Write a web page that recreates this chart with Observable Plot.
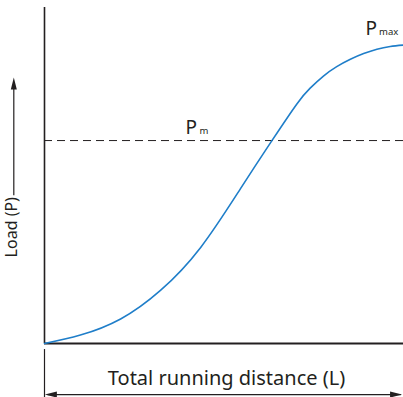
<!DOCTYPE html>
<html>
<head>
<meta charset="utf-8">
<script src="https://cdn.jsdelivr.net/npm/d3@7"></script>
<script src="https://cdn.jsdelivr.net/npm/@observablehq/plot@0.6"></script>
<style>
  html, body { margin: 0; padding: 0; background: #fff; }
  #chart svg { display: block; }
</style>
</head>
<body>
<div id="chart"></div>
<script>
// Load vs total running distance (relative units, 0–100)
const distance = [0, 10.0, 21.2, 32.3, 43.5, 54.6, 63.3, 70.3, 74.0, 77.7, 81.4, 85.2, 88.9, 92.6, 96.3, 100];
const load     = [0, 2.5, 7.3, 15.8, 28.6, 46.1, 60.3, 71.3, 76.0, 79.6, 82.4, 84.6, 86.3, 87.6, 88.4, 88.8];
const meanLoad = 60.4;            // P_m level
const labelMain = ["P", "P"];
const labelSub  = ["max", "m"];
const labelX    = [89.4, 39.3];
const labelSubX = [93.2, 43.2];
const labelY    = [91.9, 62.5];
const xTitle = "Total running distance (L)";
const yTitle = "Load (P)";

const curve = distance.map((d, i) => ({x: d, y: load[i]}));
const labels = labelMain.map((t, i) => ({t, s: labelSub[i], x: labelX[i], sx: labelSubX[i], y: labelY[i]}));
const ink = "#231f20";
const font = "Noto Sans, sans-serif";

// filled arrowhead symbol, tip at the anchor, pointing right
const arrowHead = {
  draw(context) {
    context.moveTo(0, 0);
    context.lineTo(-12, -3);
    context.lineTo(-12, 3);
    context.closePath();
  }
};

const chart = Plot.plot({
  width: 403,
  height: 397,
  marginTop: 7,
  marginRight: 0,
  marginBottom: 54,
  marginLeft: 44,
  x: {domain: [0, 100], axis: null},
  y: {domain: [0, 100], axis: null},
  style: {fontFamily: font, background: "#fff", overflow: "visible"},
  marks: [
    // dashed P_m line
    Plot.ruleY([meanLoad], {x1: 0, x2: 100, stroke: ink, strokeWidth: 1, strokeDasharray: "8,5"}),
    // axes
    Plot.ruleX([0], {y1: 0, y2: 100, stroke: ink, strokeWidth: 1.6}),
    Plot.ruleY([0], {x1: 0, x2: 100, stroke: ink, strokeWidth: 2}),
    // curve
    Plot.line(curve, {x: "x", y: "y", curve: "natural", stroke: "#1f7ec9", strokeWidth: 1.6}),
    // labels
    Plot.text(labels, {x: "x", y: "y", text: "t", textAnchor: "start", lineAnchor: "bottom", fontSize: 19, fill: ink}),
    Plot.text(labels, {x: "sx", y: "y", text: "s", textAnchor: "start", lineAnchor: "bottom", fontSize: 9.5, fill: ink}),
    // x dimension annotation
    Plot.ruleX([0], {y1: -1.8, y2: -16.5, stroke: ink, strokeWidth: 1.2}),
    Plot.ruleY([-15.2], {x1: 1, x2: 99.4, stroke: ink, strokeWidth: 1.2}),
    Plot.dot([{x: 0.1, y: -15.2, r: 180}, {x: 99.6, y: -15.2, r: 0}], {x: "x", y: "y", rotate: "r", symbol: arrowHead, fill: ink, stroke: "none"}),
    Plot.text([xTitle], {x: 50.7, y: -10.4, text: d => d, fontSize: 20, fill: ink, lineAnchor: "middle"}),
    // y title with arrow
    Plot.text([yTitle], {x: -9.2, y: 34.6, text: d => d, rotate: -90, fontSize: 16, fill: ink, lineAnchor: "middle"}),
    Plot.ruleX([-8.55], {y1: 44.0, y2: 77.5, stroke: ink, strokeWidth: 1.2}),
    Plot.dot([{x: -8.55, y: 79.2, r: -90}], {x: "x", y: "y", rotate: "r", symbol: arrowHead, fill: ink, stroke: "none"})
  ]
});
document.getElementById("chart").appendChild(chart);
</script>
</body>
</html>
